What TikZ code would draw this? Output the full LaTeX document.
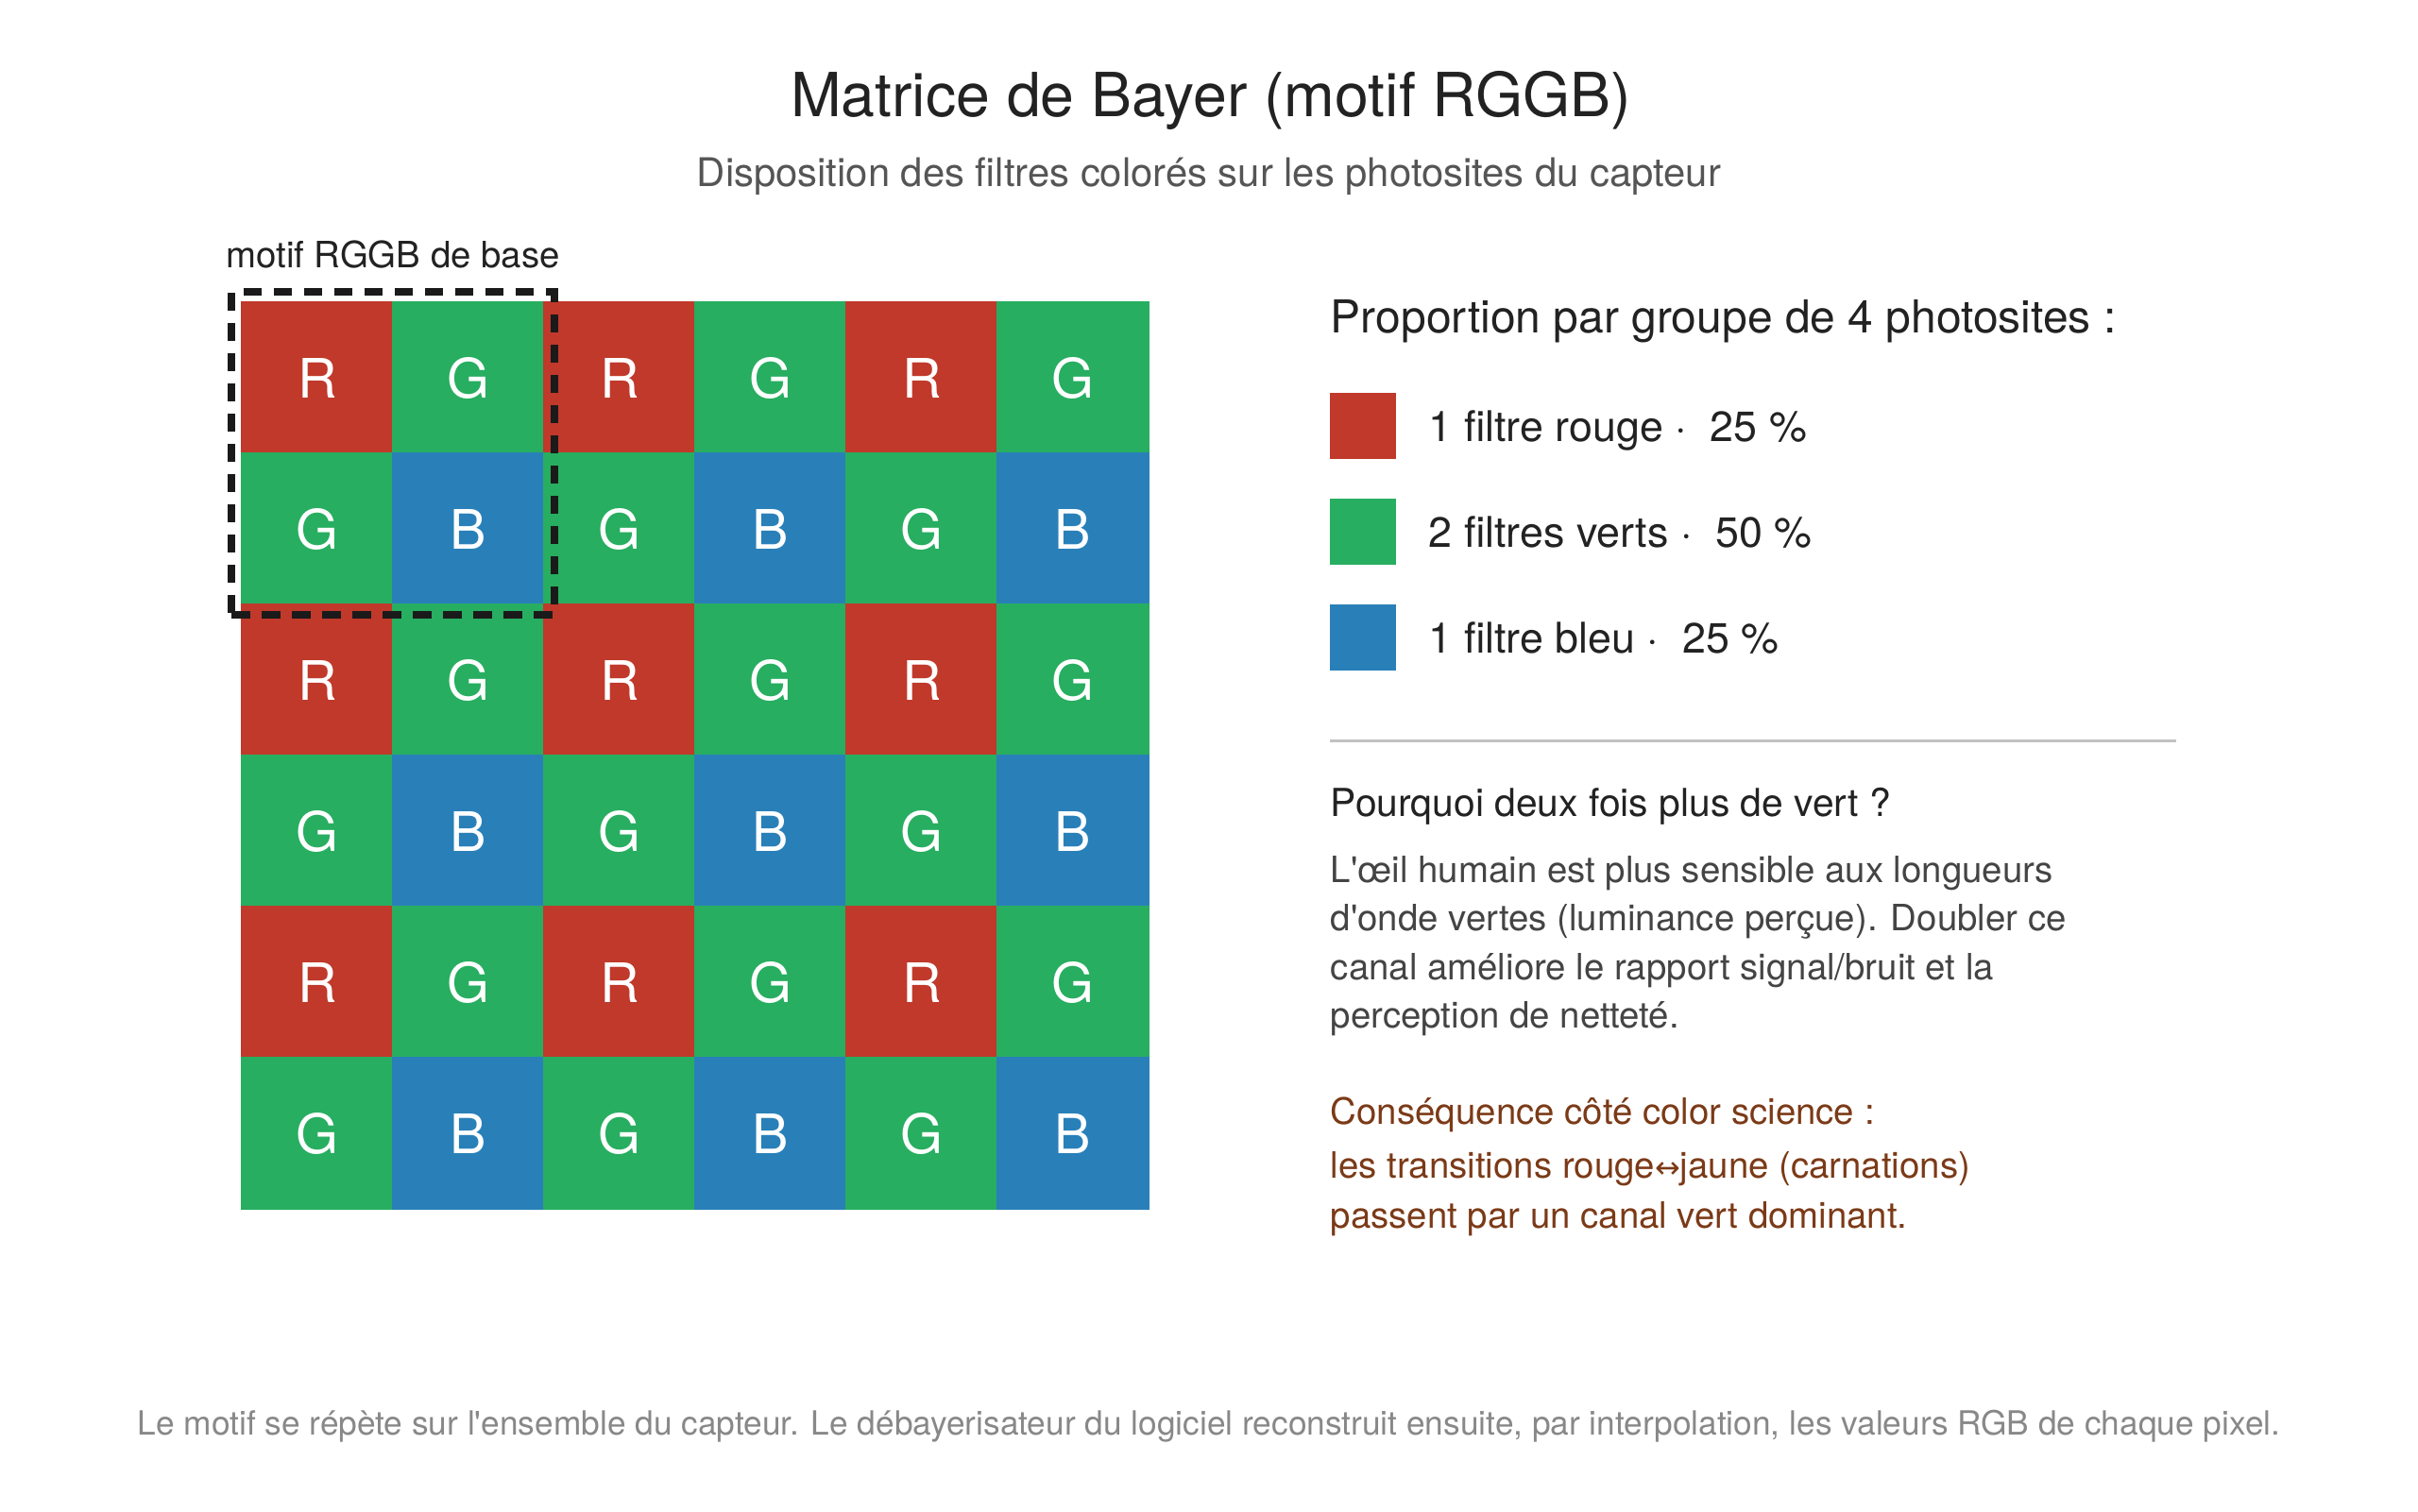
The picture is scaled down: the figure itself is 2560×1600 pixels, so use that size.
\documentclass[tikz,border=0pt]{standalone}
\usepackage{fontspec}
\setmainfont{TeX Gyre Heros}[Ligatures=TeXOff]
\newfontfamily\arrowfont{DejaVu Sans}
\usepackage{tikz}
\usepackage{xcolor}
\usetikzlibrary{positioning,fit}

\definecolor{bayerR}{HTML}{C0392B}
\definecolor{bayerG}{HTML}{27AE60}
\definecolor{bayerB}{HTML}{2980B9}
\definecolor{ink}{HTML}{222222}
\definecolor{subink}{HTML}{555555}
\definecolor{bodyink}{HTML}{444444}
\definecolor{footink}{HTML}{888888}
\definecolor{rust}{HTML}{7B3A17}
\definecolor{rulegray}{HTML}{C2C2C2}
\definecolor{dashink}{HTML}{1A1A1A}

\begin{document}
\begin{tikzpicture}[x=0.25pt,y=-0.25pt]%
  \tikzstyle{photosite}=[inner sep=0,minimum size=40pt,line width=0.4pt,text=white,font=\fontsize{14.4}{17}\selectfont]
  \tikzstyle{motifbox}=[draw=dashink,line width=2pt,dash pattern=on 4.8pt off 3.2pt,inner sep=2.45pt]
  \tikzstyle{swatch}=[inner sep=0,minimum size=17.5pt]
  \tikzstyle{txt}=[inner sep=0,anchor=base west,text=ink]
  \tikzstyle{legendtxt}=[txt,font=\fontsize{11.2}{13.4}\selectfont]
  \tikzstyle{bodytxt}=[txt,text=bodyink,font=\fontsize{9.6}{12.9}\selectfont]
  \tikzstyle{rusttxt}=[txt,text=rust,font=\fontsize{9.6}{12.9}\selectfont]
  \path[use as bounding box,fill=white] (0,0) rectangle (2560,1600);
  % titre
  \node[txt,anchor=base,font=\fontsize{16.1}{19}\selectfont] (title) at (1282,123) {Matrice de Bayer (motif RGGB)};
  \node[txt,anchor=base,text=subink,font=\fontsize{10.45}{12.5}\selectfont] (subtitle) at (1280,197) {Disposition des filtres colorés sur les photosites du capteur};
  % matrice 6x6
  \foreach \r in {0,...,5}
    \foreach \c in {0,...,5}{
      \pgfmathtruncatemacro\t{2*mod(\r,2)+mod(\c,2)}
      \ifcase\t \def\lbl{R}\or \def\lbl{G}\or \def\lbl{G}\or \def\lbl{B}\fi
      \node[photosite,fill=bayer\lbl,draw=bayer\lbl] (p\r\c) at ({336+160*\c},{400+160*\r}) {\lbl};
    }
  \node[motifbox,fit=(p00)(p11)] (motif) {};
  \node[txt,anchor=south,font=\fontsize{9.6}{11.5}\selectfont,above=5.2pt of motif] (motiflbl) {motif RGGB de base};
  % legende
  \node[txt,font=\fontsize{12}{14.4}\selectfont] (legtitle) at (1408,352) {Proportion par groupe de 4 photosites :};
  \foreach \col/\txt [count=\k from 0] in {bayerR/1 filtre rouge ·~~25~\%,bayerG/2 filtres verts ·~~50~\%,bayerB/1 filtre bleu ·~~25~\%}{
    \node[swatch,fill=\col] (sw\k) at (1443,{451+112*\k}) {};
    \node[legendtxt] (leg\k) at (1512,{467+112*\k}) {\txt};
  }
  \coordinate (rulel) at (1408,784);
  \coordinate (ruler) at (2304,784);
  \draw[rulegray,line width=0.75pt] (rulel) -- (ruler);
  % explication
  \node[txt,font=\fontsize{10.2}{12.2}\selectfont] (why) at (1408,864) {Pourquoi deux fois plus de vert ?};
  \foreach \ln [count=\k from 0] in {L'œil humain est plus sensible aux longueurs,d'onde vertes (luminance perçue). Doubler ce,canal améliore le rapport signal/bruit et la,perception de netteté.}
    \node[bodytxt] (body\k) at (1408,{934+51.5*\k}) {\ln};
  \foreach \y/\ln [count=\k from 0] in {1190/Conséquence côté color science :,1247/les transitions rouge{\arrowfont\fontsize{8}{9}\selectfont ↔}jaune (carnations),1300/passent par un canal vert dominant.}
    \node[rusttxt] (csq\k) at (1408,\y) {\ln};
  % pied
  \node[txt,anchor=base,text=footink,font=\fontsize{8.82}{10.6}\selectfont] (foot) at (1280,1519) {Le motif se répète sur l'ensemble du capteur. Le débayerisateur du logiciel reconstruit ensuite, par interpolation, les valeurs RGB de chaque pixel.};
\end{tikzpicture}
\end{document}
